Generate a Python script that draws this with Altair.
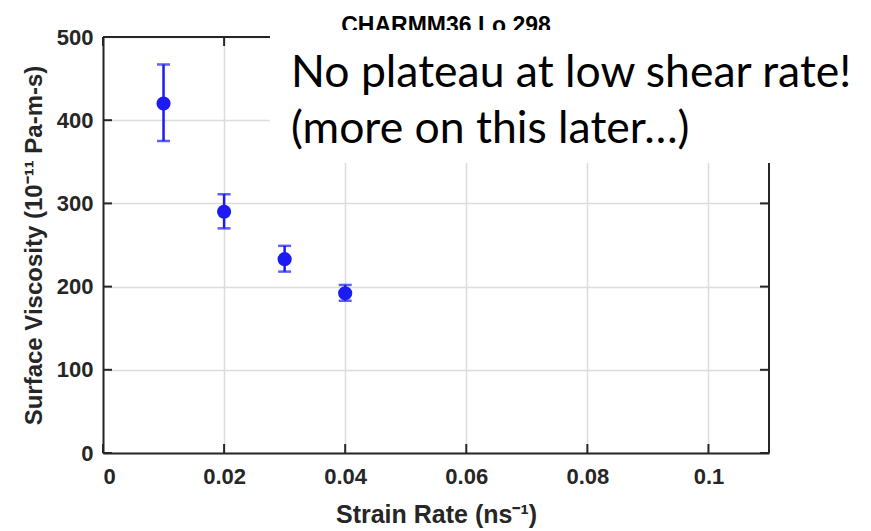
import altair as alt
import pandas as pd

# Measured surface viscosity vs. applied strain rate
strain_rate = [0.01, 0.02, 0.03, 0.04]
viscosity = [420, 290, 233, 192]
visc_low = [375, 270, 218, 183]
visc_high = [467, 311, 249, 202]

x_ticks = [0, 0.02, 0.04, 0.06, 0.08, 0.1]
y_ticks = [0, 100, 200, 300, 400, 500]
x_domain = [0, 0.11]
y_domain = [0, 500]

title_text = "CHARMM36 Lo 298"
note_lines = ["No plateau at low shear rate!", "(more on this later…)"]

W, H = 666, 416
BLUE = "#1b1bf2"
FRAME = "#262626"
FONT = "Liberation Sans"

df = pd.DataFrame({"rate": strain_rate, "visc": viscosity,
                   "lo": visc_low, "hi": visc_high})
xt = pd.DataFrame({"t": x_ticks})
yt = pd.DataFrame({"t": y_ticks})

xs = alt.Scale(domain=x_domain, nice=False, zero=False)
ys = alt.Scale(domain=y_domain, nice=False, zero=False)

x_axis = alt.Axis(values=x_ticks, format="~g", title="Strain Rate (ns⁻¹)",
                  grid=True, ticks=False, labelPadding=13, titlePadding=15,
                  titleFontSize=25)
y_axis = alt.Axis(values=y_ticks, title="Surface Viscosity (10⁻¹¹ Pa-m-s)",
                  grid=True, ticks=False, labelPadding=10, titlePadding=10,
                  titleFontSize=24)

base = alt.Chart(df)

# error bars and markers
bars = base.mark_rule(color=BLUE, strokeWidth=2.5).encode(
    x=alt.X("rate:Q", scale=xs, axis=x_axis),
    y=alt.Y("lo:Q", scale=ys, axis=y_axis),
    y2="hi:Q",
)
cap_lo = base.mark_tick(color=BLUE, orient="horizontal", size=13, thickness=2.5).encode(
    x=alt.X("rate:Q", scale=xs), y=alt.Y("lo:Q", scale=ys))
cap_hi = base.mark_tick(color=BLUE, orient="horizontal", size=13, thickness=2.5).encode(
    x=alt.X("rate:Q", scale=xs), y=alt.Y("hi:Q", scale=ys))
points = base.mark_circle(color=BLUE, size=200, opacity=1).encode(
    x=alt.X("rate:Q", scale=xs), y=alt.Y("visc:Q", scale=ys))

# top and right sides of the box frame
top_frame = alt.Chart(pd.DataFrame({"a": [x_domain[0]], "b": [x_domain[1]], "y": [y_domain[1]]})).mark_rule(
    color=FRAME, strokeWidth=2).encode(
    x=alt.X("a:Q", scale=xs), x2="b:Q", y=alt.Y("y:Q", scale=ys))
right_frame = alt.Chart(pd.DataFrame({"x": [x_domain[1]], "a": [y_domain[0]], "b": [y_domain[1]]})).mark_rule(
    color=FRAME, strokeWidth=2).encode(
    x=alt.X("x:Q", scale=xs), y=alt.Y("a:Q", scale=ys), y2="b:Q")

# inward-pointing ticks on all four sides
TL = 9
bottom_ticks = alt.Chart(xt).mark_rule(color=FRAME, strokeWidth=2).encode(
    x=alt.X("t:Q", scale=xs), y=alt.value(H), y2=alt.value(H - TL))
top_ticks = alt.Chart(xt).mark_rule(color=FRAME, strokeWidth=2).encode(
    x=alt.X("t:Q", scale=xs), y=alt.value(0), y2=alt.value(TL))
left_ticks = alt.Chart(yt).mark_rule(color=FRAME, strokeWidth=2).encode(
    y=alt.Y("t:Q", scale=ys), x=alt.value(0), x2=alt.value(TL))
right_ticks = alt.Chart(yt).mark_rule(color=FRAME, strokeWidth=2).encode(
    y=alt.Y("t:Q", scale=ys), x=alt.value(W), x2=alt.value(W - TL))

title = alt.Chart(pd.DataFrame({"s": [title_text]})).mark_text(
    font=FONT, fontWeight="bold", fontSize=23, color="#000000",
    align="center", baseline="alphabetic").encode(
    text="s:N", x=alt.value(343), y=alt.value(-4))

# white call-out panel with the note on top
panel = alt.Chart(pd.DataFrame({"k": [0]})).mark_rect(color="#ffffff", opacity=1).encode(
    x=alt.value(167), x2=alt.value(W + 110), y=alt.value(-7), y2=alt.value(126))
note = alt.Chart(pd.DataFrame({"k": [0]})).mark_text(
    text=note_lines, font="Lato", fontSize=44.5, lineHeight=56, color="#000000",
    align="left", baseline="alphabetic").encode(
    x=alt.value(188), y=alt.value(50))

chart = alt.layer(
    bars, cap_lo, cap_hi, points,
    top_frame, right_frame, bottom_ticks, top_ticks, left_ticks, right_ticks,
    title, panel, note,
).properties(
    width=W, height=H,
    autosize=alt.AutoSizeParams(type="none"),
    padding={"left": 103, "top": 37, "right": 102, "bottom": 78},
    background="#ffffff",
).configure_view(stroke=None).configure_axis(
    zindex=0,
    domainColor=FRAME, domainWidth=2,
    gridColor="#dcdcdc", gridWidth=1.5,
    labelFont=FONT, labelFontWeight="bold", labelFontSize=22, labelColor="#262626",
    titleFont=FONT, titleFontWeight="bold", titleColor="#262626",
)

chart.save("out.html", embed_options={"renderer": "svg", "actions": False})
